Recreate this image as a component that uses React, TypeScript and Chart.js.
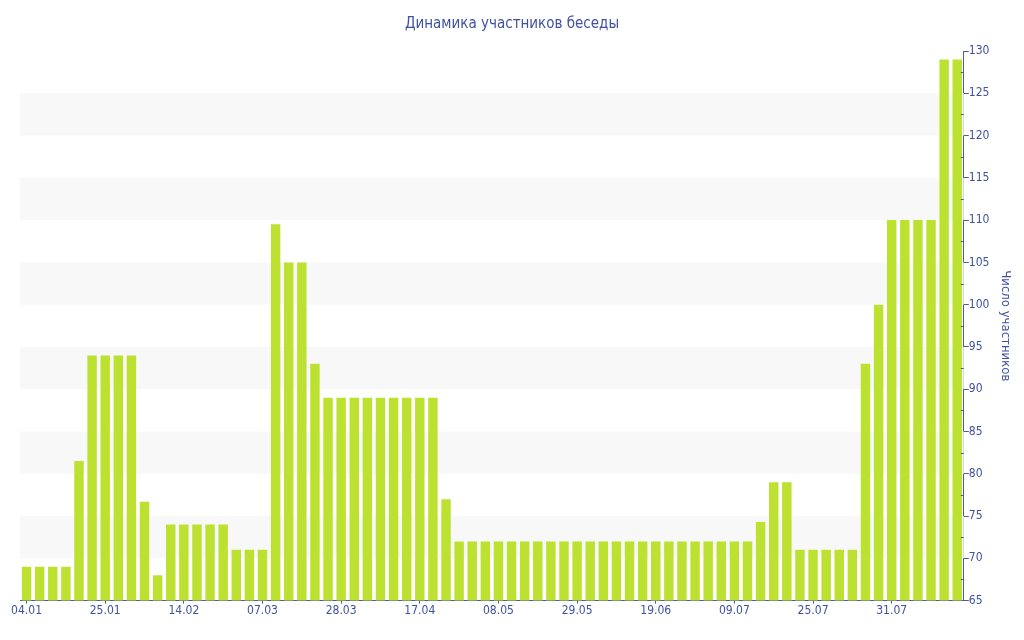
import { useEffect, useRef } from 'react';
import { Chart, registerables, Plugin } from 'chart.js';

Chart.register(...registerables);

// number of chat members per sample
const participants: number[] = [
  69, 69, 69, 69, 81.5, 94, 94, 94, 94, 76.7,
  68, 74, 74, 74, 74, 74, 71, 71, 71, 109.5,
  105, 105, 93, 89, 89, 89, 89, 89, 89, 89,
  89, 89, 77, 72, 72, 72, 72, 72, 72, 72,
  72, 72, 72, 72, 72, 72, 72, 72, 72, 72,
  72, 72, 72, 72, 72, 72, 74.3, 79, 79, 71,
  71, 71, 71, 71, 93, 100, 110, 110, 110, 110,
  129, 129,
];

// dates shown on the x axis, one every 6 bars
const tickLabels: string[] = [
  '04.01', '25.01', '14.02', '07.03', '28.03', '17.04',
  '08.05', '29.05', '19.06', '09.07', '25.07', '31.07',
];
const tickEvery = 6;

const yMin = 65;
const yMax = 130;
const yStep = 5;

const TEXT = '#3f51a0';
const AXIS = '#4b5b9c';
const BAR = '#bde130';
const BAND = '#f8f8f8';
const FONT = '"DejaVu Sans Condensed", "Liberation Sans", sans-serif';

// light bands every other 5-unit step
const bandsPlugin: Plugin<'bar'> = {
  id: 'bands',
  beforeDatasetsDraw(chart) {
    const { ctx, chartArea, scales } = chart;
    const y = scales.y;
    ctx.save();
    ctx.fillStyle = BAND;
    for (let v = yMin + yStep; v < yMax; v += yStep * 2) {
      const top = y.getPixelForValue(v + yStep);
      const bottom = y.getPixelForValue(v);
      ctx.fillRect(chartArea.left, top, chartArea.right - chartArea.left, bottom - top);
    }
    ctx.restore();
  },
};

// small inward ticks half way between the labelled ones
const minorTicksPlugin: Plugin<'bar'> = {
  id: 'minorTicks',
  afterDraw(chart) {
    const { ctx, chartArea, scales } = chart;
    const y = scales.y;
    ctx.save();
    ctx.strokeStyle = AXIS;
    ctx.lineWidth = 1;
    for (let v = yMin + yStep / 2; v < yMax; v += yStep) {
      const py = Math.round(y.getPixelForValue(v)) + 0.5;
      ctx.beginPath();
      ctx.moveTo(chartArea.right - 3, py);
      ctx.lineTo(chartArea.right, py);
      ctx.stroke();
    }
    ctx.restore();
  },
};

export default function App() {
  const canvasRef = useRef<HTMLCanvasElement | null>(null);

  useEffect(() => {
    document.body.style.margin = '0';
    if (!canvasRef.current) return;

    const labels = participants.map((_, i) =>
      i % tickEvery === 0 ? tickLabels[i / tickEvery] ?? '' : ''
    );

    const chart = new Chart(canvasRef.current, {
      type: 'bar',
      data: {
        labels,
        datasets: [
          {
            label: 'Число участников',
            data: participants,
            backgroundColor: BAR,
            borderWidth: 0,
            barPercentage: 0.72,
            categoryPercentage: 1,
            yAxisID: 'y',
          },
        ],
      },
      options: {
        animation: false,
        responsive: true,
        maintainAspectRatio: false,
        layout: { padding: { left: 2, right: 2, top: 0, bottom: 22 } },
        plugins: {
          legend: { display: false },
          tooltip: { enabled: false },
          title: {
            display: true,
            text: 'Динамика участников беседы',
            color: TEXT,
            font: { family: FONT, size: 15, weight: 'normal' },
            padding: { top: 15, bottom: 18 },
          },
        },
        scales: {
          x: {
            offset: true,
            border: { display: true, color: AXIS, width: 1 },
            grid: {
              offset: false,
              drawOnChartArea: false,
              drawTicks: true,
              tickLength: 3,
              color: (ctx) => (ctx.index % tickEvery === 0 ? AXIS : 'rgba(0,0,0,0)'),
            },
            ticks: {
              autoSkip: false,
              maxRotation: 0,
              color: TEXT,
              padding: 0,
              font: { family: FONT, size: 12 },
            },
          },
          // empty left gutter so the title stays centred on the page
          gutter: {
            type: 'linear',
            axis: 'y',
            position: 'left',
            min: yMin,
            max: yMax,
            grid: { display: false },
            border: { display: false },
            ticks: { display: false },
            afterFit: (scale) => {
              scale.width = 18;
            },
          },
          y: {
            position: 'right',
            min: yMin,
            max: yMax,
            border: { display: true, color: AXIS, width: 1 },
            grid: {
              drawOnChartArea: false,
              drawTicks: true,
              tickLength: 5,
              color: AXIS,
            },
            ticks: {
              stepSize: yStep,
              color: TEXT,
              padding: 0,
              font: { family: FONT, size: 12 },
            },
            title: {
              display: true,
              text: 'Число участников',
              color: TEXT,
              font: { family: FONT, size: 13 },
              padding: { top: 9, bottom: 8 },
            },
          },
        },
      },
      plugins: [bandsPlugin, minorTicksPlugin],
    });

    return () => chart.destroy();
  }, []);

  return (
    <div style={{ width: 1024, height: 640, position: 'relative', background: '#fff' }}>
      <canvas ref={canvasRef} />
    </div>
  );
}
